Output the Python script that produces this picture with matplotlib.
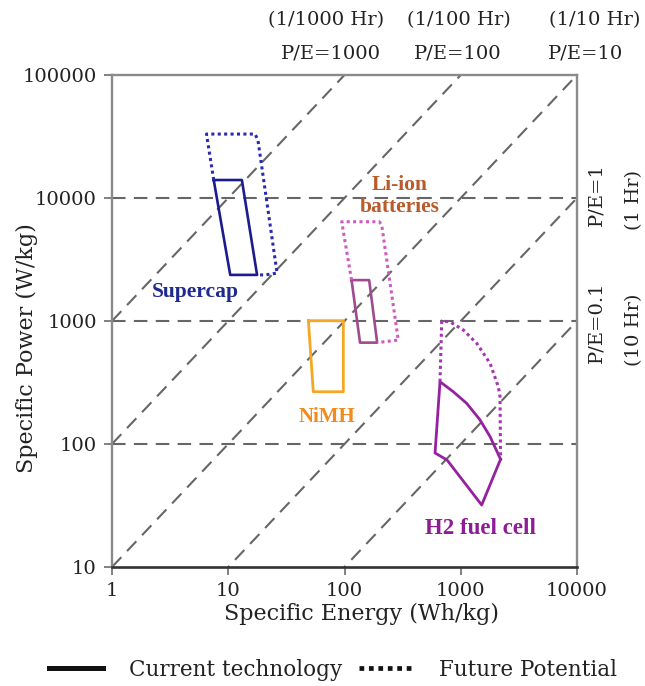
import matplotlib
matplotlib.use("Agg")
import matplotlib.pyplot as plt
from matplotlib.lines import Line2D
import numpy as np

# ---------------- data ----------------
x_ticks = [1, 10, 100, 1000, 10000]
x_tick_labels = ["1", "10", "100", "1000", "10000"]
y_ticks = [10, 100, 1000, 10000, 100000]
y_tick_labels = ["10", "100", "1000", "10000", "100000"]

pe_ratios = [1000, 100, 10, 1, 0.1]          # diagonal guide lines P/E
power_levels = [10000, 1000, 100]            # horizontal guide lines

top_labels = ["(1/1000 Hr)", "(1/100 Hr)", "(1/10 Hr)"]
top_pe_labels = ["P/E=1000", "P/E=100", "P/E=10"]
right_pe_labels = ["P/E=1", "P/E=0.1"]
right_hr_labels = ["(1 Hr)", "(10 Hr)"]

supercap_now_E = [7.5, 13.1, 17.7, 10.4, 7.5]
supercap_now_P = [14000, 14000, 2370, 2370, 14000]
supercap_fut_E = [7.5, 6.5, 17.0, 18.0, 26.3, 20.7, 17.7]
supercap_fut_P = [14000, 33100, 33100, 29600, 2450, 2370, 2370]

liion_now_E = [115, 163, 191, 136, 115]
liion_now_P = [2150, 2150, 667, 667, 2150]
liion_fut_E = [115, 94.6, 199, 209, 290, 191]
liion_fut_P = [2150, 6410, 6410, 6030, 700, 667]

nimh_E = [48.9, 97.7, 97.7, 53.9, 48.9]
nimh_P = [1005, 1005, 266, 266, 1005]

h2_now_E = [2200, 1786, 1465, 1125, 863, 663, 601, 762, 1514, 2200]
h2_now_P = [75.2, 115, 157, 214, 266, 321, 84.5, 74.2, 31.9, 75.2]
h2_fut_E = [663, 686, 809, 1052, 1371, 1786, 2104, 2177, 2200]
h2_fut_P = [321, 1000, 985, 845, 659, 453, 292, 243, 75.2]

# ---------------- styles ----------------
SERIF = ["DejaVu Serif"]
LBL = ["Liberation Serif", "DejaVu Serif"]
TXT = "#222222"
GUIDE = "#666666"

fig = plt.figure(figsize=(6.45, 6.86), dpi=100)
ax = fig.add_axes([112 / 645, 1 - 567 / 686, 465 / 645, 492 / 686])
ax.set_xscale("log")
ax.set_yscale("log")
ax.set_xlim(1, 10000)
ax.set_ylim(10, 100000)

# guide lines
for p in power_levels:
    ax.axhline(p, color=GUIDE, lw=1.5, ls=(0, (6.5, 4)), zorder=1)
e_line = np.array([1, 10000], dtype=float)
for r in pe_ratios:
    ax.plot(e_line, r * e_line, color=GUIDE, lw=1.5, ls=(0, (6.5, 4)), zorder=1)

dot = (0, (1, 1.1))
# Supercap
ax.plot(supercap_now_E, supercap_now_P, color="#1c1c8f", lw=1.9, zorder=3)
ax.plot(supercap_fut_E, supercap_fut_P, color="#2a2ab0", lw=2.2, ls=dot, zorder=3)
# Li-ion
ax.plot(liion_now_E, liion_now_P, color="#a04a90", lw=1.9, zorder=3)
ax.plot(liion_fut_E, liion_fut_P, color="#cc5cc0", lw=2.2, ls=dot, zorder=3)
# NiMH
ax.plot(nimh_E, nimh_P, color="#f5a623", lw=2.0, zorder=3)
# H2
ax.plot(h2_now_E, h2_now_P, color="#9422a0", lw=2.0, zorder=3)
ax.plot(h2_fut_E, h2_fut_P, color="#a336b0", lw=2.2, ls=dot, zorder=3)

# technology labels
ax.text(5.23, 1722, "Supercap", color="#1f2a8e", fontsize=15.5, fontweight="bold",
        family=LBL, ha="center", va="center")
ax.text(300, 10380, "Li-ion\nbatteries", color="#b85a2a", fontsize=15.5, fontweight="bold",
        family=LBL, ha="center", va="center", linespacing=1.1)
ax.text(70.3, 167, "NiMH", color="#f28a1c", fontsize=15, fontweight="bold",
        family=LBL, ha="center", va="center")
ax.text(1493, 20.7, "H2 fuel cell", color="#8e1c94", fontsize=16.5, fontweight="bold",
        family=LBL, ha="center", va="center")

# ticks
ax.set_xticks(x_ticks)
ax.set_xticklabels(x_tick_labels)
ax.set_yticks(y_ticks)
ax.set_yticklabels(y_tick_labels)
ax.minorticks_off()
ax.tick_params(axis="both", direction="out", length=6, width=1.3, color="#777777",
               labelsize=14, labelcolor=TXT, pad=5)
for lab in ax.get_xticklabels() + ax.get_yticklabels():
    lab.set_family(SERIF)

for side in ["left", "top", "right"]:
    ax.spines[side].set_color("#8a8a8a")
    ax.spines[side].set_linewidth(1.7)
ax.spines["bottom"].set_color("#333333")
ax.spines["bottom"].set_linewidth(1.9)

# axis labels
fig.text(362 / 645, 1 - 614 / 686, "Specific Energy (Wh/kg)", family=SERIF, fontsize=16,
         color=TXT, ha="center", va="center")
fig.text(27 / 645, 1 - 348 / 686, "Specific Power (W/kg)", family=SERIF, fontsize=16,
         color=TXT, ha="center", va="center", rotation=90)

# top labels
top_x = [326, 459, 595]
top_x2 = [331, 458, 586]
for xx, xx2, t1, t2 in zip(top_x, top_x2, top_labels, top_pe_labels):
    fig.text(xx / 645, 1 - 20 / 686, t1, family=SERIF, fontsize=14, color=TXT,
             ha="center", va="center")
    fig.text(xx2 / 645, 1 - 53 / 686, t2, family=SERIF, fontsize=14, color=TXT,
             ha="center", va="center")

# right labels
right_y = [195, 322]
right_y2 = [200, 330]
for yy, yy2, t1, t2 in zip(right_y, right_y2, right_pe_labels, right_hr_labels):
    fig.text(596 / 645, 1 - yy / 686, t1, family=SERIF, fontsize=14, color=TXT,
             ha="center", va="center", rotation=90)
    fig.text(634 / 645, 1 - yy2 / 686, t2, family=SERIF, fontsize=14, color=TXT,
             ha="center", va="center", rotation=90)

# legend
handles = [Line2D([], [], color="#111111", lw=3.6),
           Line2D([], [], color="#111111", lw=3.4, ls=(0, (1, 1)))]
leg = fig.legend(handles, ["Current technology", "Future Potential"], ncol=2,
                 loc="center", bbox_to_anchor=(333 / 645, 1 - 670 / 686),
                 frameon=False, handlelength=2.5, handletextpad=1.2, columnspacing=0.8,
                 prop={"family": SERIF, "size": 15.5})
for t in leg.get_texts():
    t.set_color(TXT)

fig.savefig("out.png", dpi=100)
